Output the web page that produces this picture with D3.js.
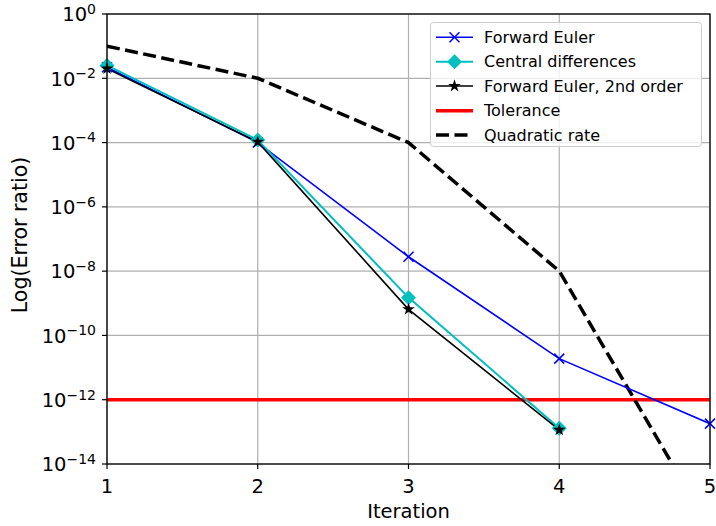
<!DOCTYPE html>
<html><head><meta charset="utf-8">
<script src="https://cdn.jsdelivr.net/npm/d3@7"></script>
<style>body{margin:0;background:#fff}svg{display:block;font-family:"DejaVu Sans",sans-serif}</style>
</head><body>
<svg id="c" width="716" height="526"></svg>
<script>
const iterations = [1, 2, 3, 4, 5];
const forwardEuler = [2.2e-2, 1.0e-4, 2.8e-8, 1.9e-11, 1.8e-13];
const centralDiff = [2.5e-2, 1.2e-4, 1.5e-9, 1.3e-13];
const forwardEuler2 = [2.0e-2, 1.05e-4, 6.5e-10, 1.15e-13];
const quadraticRate = [1e-1, 1e-2, 1e-4, 1e-8, 1e-16];
const tolerance = 1e-12;
const yTickExps = [0, -2, -4, -6, -8, -10, -12, -14];
const xTicks = [1, 2, 3, 4, 5];
const legendLabels = ["Forward Euler", "Central differences", "Forward Euler, 2nd order", "Tolerance", "Quadratic rate"];

const svg = d3.select("#c");
const m = {l:107, r:710, t:14, b:464};
const x = d3.scaleLinear().domain([1,5]).range([m.l, m.r]);
const y = d3.scaleLog().domain([1e-14, 1]).range([m.b, m.t]);

svg.append("defs").append("clipPath").attr("id","clip")
  .append("rect").attr("x",m.l).attr("y",m.t).attr("width",m.r-m.l).attr("height",m.b-m.t);

// grid
const g = svg.append("g");
g.selectAll(".gx").data(xTicks).enter().append("line")
  .attr("x1",d=>x(d)).attr("x2",d=>x(d)).attr("y1",m.t).attr("y2",m.b)
  .attr("stroke","#b0b0b0").attr("stroke-width",1.2);
g.selectAll(".gy").data(yTickExps).enter().append("line")
  .attr("x1",m.l).attr("x2",m.r).attr("y1",d=>y(Math.pow(10,d))).attr("y2",d=>y(Math.pow(10,d)))
  .attr("stroke","#b0b0b0").attr("stroke-width",1.2);

const plot = svg.append("g").attr("clip-path","url(#clip)");
const line = d3.line().x((d,i)=>x(iterations[i])).y(d=>y(d));

// tolerance
plot.append("line").attr("x1",m.l).attr("x2",m.r).attr("y1",y(tolerance)).attr("y2",y(tolerance))
  .attr("stroke","#ff0000").attr("stroke-width",3.5);

// quadratic
plot.append("path").attr("d",line(quadraticRate)).attr("fill","none")
  .attr("stroke","#000").attr("stroke-width",3.5).attr("stroke-dasharray","13,5.5");

const markersG = svg.append("g");
function series(data, color, w, marker){
  plot.append("path").attr("d",line(data)).attr("fill","none").attr("stroke",color).attr("stroke-width",w);
  data.forEach((d,i)=>{ marker(markersG, x(iterations[i]), y(d)); });
}
function xMark(gg,cx,cy,color){
  const s=5;
  gg.append("path").attr("d",`M${cx-s},${cy-s}L${cx+s},${cy+s}M${cx-s},${cy+s}L${cx+s},${cy-s}`)
    .attr("stroke",color).attr("stroke-width",1.5).attr("fill","none");
}
function diamond(gg,cx,cy,color){
  const s=7.5;
  gg.append("path").attr("d",`M${cx},${cy-s}L${cx+s},${cy}L${cx},${cy+s}L${cx-s},${cy}Z`).attr("fill",color);
}
function star(gg,cx,cy,color){
  gg.append("path").attr("d",d3.symbol().type(d3.symbolStar).size(50)()).attr("transform",`translate(${cx},${cy})`).attr("fill",color);
}

series(forwardEuler, "#0000ff", 1.6, (gg,cx,cy)=>xMark(gg,cx,cy,"#0000ff"));
series(centralDiff, "#00bfbf", 2, (gg,cx,cy)=>diamond(gg,cx,cy,"#00bfbf"));
series(forwardEuler2, "#000000", 1.6, (gg,cx,cy)=>star(gg,cx,cy,"#000"));

// spines
svg.append("rect").attr("x",m.l).attr("y",m.t).attr("width",m.r-m.l).attr("height",m.b-m.t)
  .attr("fill","none").attr("stroke","#000").attr("stroke-width",1.3);

// y ticks
const yt = svg.append("g");
yTickExps.forEach(e=>{
  const yy = y(Math.pow(10,e));
  yt.append("line").attr("x1",m.l-5).attr("x2",m.l).attr("y1",yy).attr("y2",yy).attr("stroke","#000").attr("stroke-width",1.2);
  const t = yt.append("text").attr("x",96).attr("y",yy+7.3).attr("text-anchor","end").attr("font-size",19.5).attr("fill","#000");
  t.append("tspan").text("10");
  t.append("tspan").attr("dy",-7.5).attr("font-size",14).text(e<0 ? "\u2212"+(-e) : String(e));
});
// x ticks
xTicks.forEach(v=>{
  svg.append("line").attr("x1",x(v)).attr("x2",x(v)).attr("y1",m.b).attr("y2",m.b+5).attr("stroke","#000").attr("stroke-width",1.2);
  svg.append("text").attr("x",x(v)).attr("y",492.5).attr("text-anchor","middle").attr("font-size",19.5).text(v);
});
svg.append("text").attr("x",(m.l+m.r)/2).attr("y",518).attr("text-anchor","middle").attr("font-size",19.5).text("Iteration");
svg.append("text").attr("transform",`translate(27,${(m.t+m.b)/2 - 4}) rotate(-90)`).attr("text-anchor","middle").attr("font-size",20.5).text("Log(Error ratio)");

// legend
const lg = svg.append("g");
lg.append("rect").attr("x",430.5).attr("y",22.5).attr("width",271).attr("height",124).attr("rx",3)
  .attr("fill","#fff").attr("fill-opacity",0.8).attr("stroke","#cccccc").attr("stroke-width",1);
const ly = [37.3, 61.7, 86, 110.7, 135];
const lx1 = 436, lx2 = 473;
const styles = [
  {c:"#0000ff",w:1.6,m:xMark},
  {c:"#00bfbf",w:2,m:diamond},
  {c:"#000",w:1.6,m:star},
  {c:"#ff0000",w:3.5},
  {c:"#000",w:3.5,dash:"13,5.5"}
];
legendLabels.forEach((lab,i)=>{
  const s = styles[i];
  const l = lg.append("line").attr("x1",lx1).attr("x2",lx2).attr("y1",ly[i]).attr("y2",ly[i]).attr("stroke",s.c).attr("stroke-width",s.w);
  if (s.dash) l.attr("stroke-dasharray",s.dash);
  if (s.m) s.m(lg,(lx1+lx2)/2,ly[i],s.c);
  lg.append("text").attr("x",484).attr("y",ly[i]+5.5).attr("font-size",16).text(lab);
});
</script>
</body></html>
